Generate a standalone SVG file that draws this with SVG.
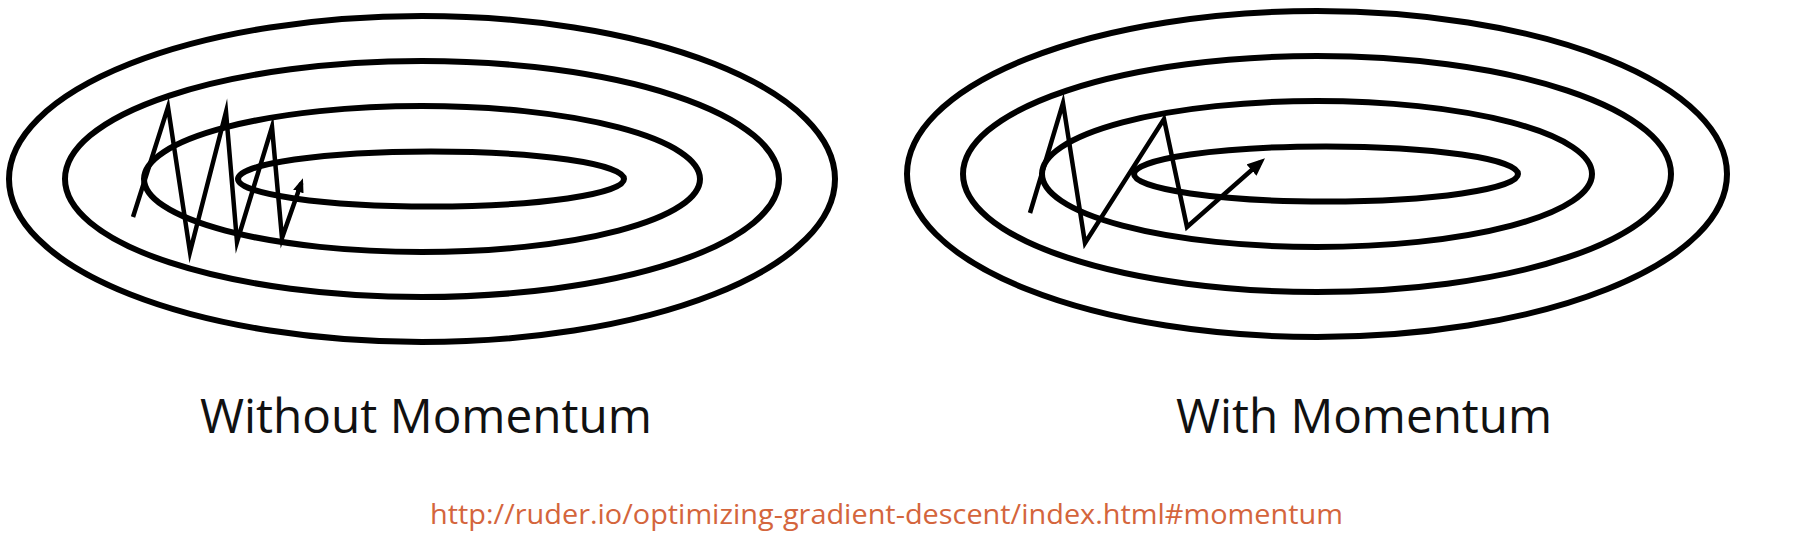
<svg xmlns="http://www.w3.org/2000/svg" width="1804" height="550" viewBox="0 0 1804 550">
  <style>
    .contour { fill: none; stroke: #000; stroke-width: 6; }
    .path { fill: none; stroke: #000; stroke-width: 4.5; stroke-linejoin: miter; stroke-miterlimit: 20; }
    .label { font-family: "Open Sans", "Liberation Sans", sans-serif; font-size: 48px; fill: #111; }
    .url { font-family: "Open Sans", "Liberation Sans", sans-serif; font-size: 27px; fill: #D4653C; }
  </style>
  <defs>
    <marker id="arrowR" markerUnits="userSpaceOnUse" viewBox="0 0 18 15" markerWidth="18" markerHeight="15" refX="12" refY="7.5" orient="auto">
      <path d="M0,0 L18,7.5 L0,15 z" fill="#000"/>
    </marker>
    <marker id="arrowL" markerUnits="userSpaceOnUse" viewBox="0 0 14 11" markerWidth="14" markerHeight="11" refX="9" refY="5.5" orient="auto">
      <path d="M0,0 L14,5.5 L0,11 z" fill="#000"/>
    </marker>
  </defs>
  <rect width="1804" height="550" fill="#fff"/>

  <g id="without-momentum">
    <ellipse class="contour" cx="422" cy="179" rx="413" ry="163"/>
    <ellipse class="contour" cx="422" cy="179" rx="357" ry="118"/>
    <ellipse class="contour" cx="422" cy="179" rx="278" ry="73"/>
    <ellipse class="contour" cx="431" cy="179" rx="193" ry="27.5"/>
  </g>

  <g id="with-momentum">
    <ellipse class="contour" cx="1317" cy="174" rx="410" ry="163"/>
    <ellipse class="contour" cx="1317" cy="174" rx="354" ry="118"/>
    <ellipse class="contour" cx="1317" cy="174" rx="275" ry="73"/>
    <ellipse class="contour" cx="1326" cy="174" rx="192" ry="27.5"/>
  </g>

  <g id="connectors">
    <path class="path" marker-end="url(#arrowL)" d="M133,217 L168,107 L190,252 L226,112 L237,242 L272,127 L282,238 L301.3,183"/>
    <path class="path" marker-end="url(#arrowR)" d="M1030,213 L1063,103 L1085,243 L1164,119 L1187,227 L1260.5,162.2"/>
  </g>

  <g id="labels">
    <text class="label" x="200" y="433" textLength="452" lengthAdjust="spacingAndGlyphs">Without Momentum</text>
    <text class="label" x="1176" y="433" textLength="376" lengthAdjust="spacingAndGlyphs">With Momentum</text>
    <text class="url" x="430" y="524" textLength="913" lengthAdjust="spacingAndGlyphs">http://ruder.io/optimizing-gradient-descent/index.html#momentum</text>
  </g>
</svg>
